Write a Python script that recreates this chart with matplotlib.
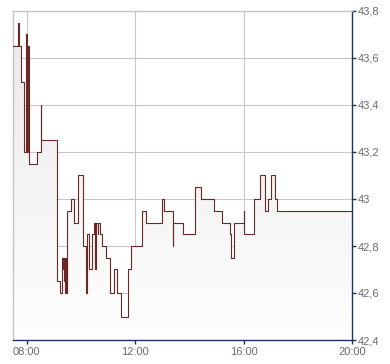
import numpy as np
import matplotlib
matplotlib.use("Agg")
import matplotlib.pyplot as plt
from matplotlib.ticker import FixedLocator, FuncFormatter

plt.rcParams['font.family'] = ['Liberation Sans', 'DejaVu Sans']

# Kursverlauf (Zeit, Kurs) - Treppenkurve
times = ["07:30", "07:41", "07:44", "07:48", "07:55", "07:59", "08:00", "08:01", "08:02",
         "08:03", "08:04", "08:05", "08:06", "08:24", "08:32", "08:33", "09:08", "09:13",
         "09:18", "09:20", "09:22", "09:23", "09:25", "09:26", "09:28", "09:29", "09:30",
         "09:39", "09:45", "09:53", "10:04", "10:12", "10:13", "10:19", "10:24", "10:30",
         "10:32", "10:34", "10:37", "10:39", "10:42", "10:48", "10:56", "11:05", "11:14",
         "11:19", "11:28", "11:45", "11:51", "12:15", "12:24", "12:59", "13:05", "13:23",
         "13:24", "13:45", "14:12", "14:26", "14:55", "15:13", "15:30", "15:33", "15:39",
         "16:01", "16:02", "16:23", "16:37", "16:48", "16:54", "17:00", "17:10", "17:13",
         "20:00"]
prices = [43.65, 43.75, 43.65, 43.50, 43.20, 43.70, 43.20, 43.70, 43.65,
          43.20, 43.65, 43.20, 43.15, 43.20, 43.40, 43.25, 42.65, 42.60,
          42.75, 42.70, 42.75, 42.65, 42.75, 42.60, 42.75, 42.60, 42.95,
          43.00, 42.90, 43.10, 42.80, 42.60, 42.85, 42.70, 42.85, 42.90,
          42.70, 42.90, 42.85, 42.90, 42.85, 42.80, 42.75, 42.60, 42.70,
          42.60, 42.50, 42.70, 42.80, 42.95, 42.90, 43.00, 42.95, 42.80,
          42.90, 42.85, 43.05, 43.00, 42.95, 42.90, 42.85, 42.75, 42.90,
          42.95, 42.85, 43.00, 43.10, 42.95, 43.00, 43.10, 43.00, 42.95,
          42.95]

x_ticks = ["08:00", "12:00", "16:00", "20:00"]
y_ticks = [42.4, 42.6, 42.8, 43.0, 43.2, 43.4, 43.6, 43.8]


def to_hours(s):
    h, m = s.split(":")
    return int(h) + int(m) / 60.0


x = np.array([to_hours(t) for t in times])
y = np.array(prices)
xt = [to_hours(t) for t in x_ticks]

fig = plt.figure(figsize=(3.9, 3.64), dpi=100)
ax = fig.add_axes([13 / 390, 1 - 340 / 364, (352 - 13) / 390, (340 - 11) / 364])
ax.set_xlim(7.5, 20)
ax.set_ylim(42.4, 43.8)

# Flaeche unter der Kurve mit Verlauf
poly = ax.fill_between(x, y, 42.4, step='post', color='none', lw=0)
grad = np.linspace(0, 1, 256).reshape(-1, 1)
img = ax.imshow(grad, extent=[7.5, 20, 42.4, 43.8], aspect='auto', origin='upper',
                cmap=matplotlib.colors.LinearSegmentedColormap.from_list(
                    'g', ['#e9e9e9', '#fefefe']), zorder=1)
img.set_clip_path(poly.get_paths()[0], transform=ax.transData)

ax.step(x, y, where='post', color='#6b2626', lw=0.8, zorder=3)

ax.xaxis.set_major_locator(FixedLocator(xt))
ax.xaxis.set_major_formatter(FuncFormatter(lambda v, p: "%02d:00" % round(v)))
ax.yaxis.set_major_locator(FixedLocator(y_ticks))
ax.yaxis.set_major_formatter(FuncFormatter(
    lambda v, p: ("%g" % round(v, 1)).replace(".", ",")))
ax.yaxis.tick_right()

ax.grid(True, color='#c8c8c8', lw=0.8, zorder=0)
ax.set_axisbelow(True)

navy = '#1c3560'
for side in ['left', 'top']:
    ax.spines[side].set_color('#c4c4c4')
    ax.spines[side].set_linewidth(1.0)
for side in ['right', 'bottom']:
    ax.spines[side].set_color(navy)
    ax.spines[side].set_linewidth(1.0)

ax.tick_params(axis='both', colors=navy, labelcolor='#6a6a6a', labelsize=8,
               length=3, width=1, direction='out', pad=2)
ax.tick_params(axis='y', pad=1)

fig.savefig("out.png", dpi=100)
